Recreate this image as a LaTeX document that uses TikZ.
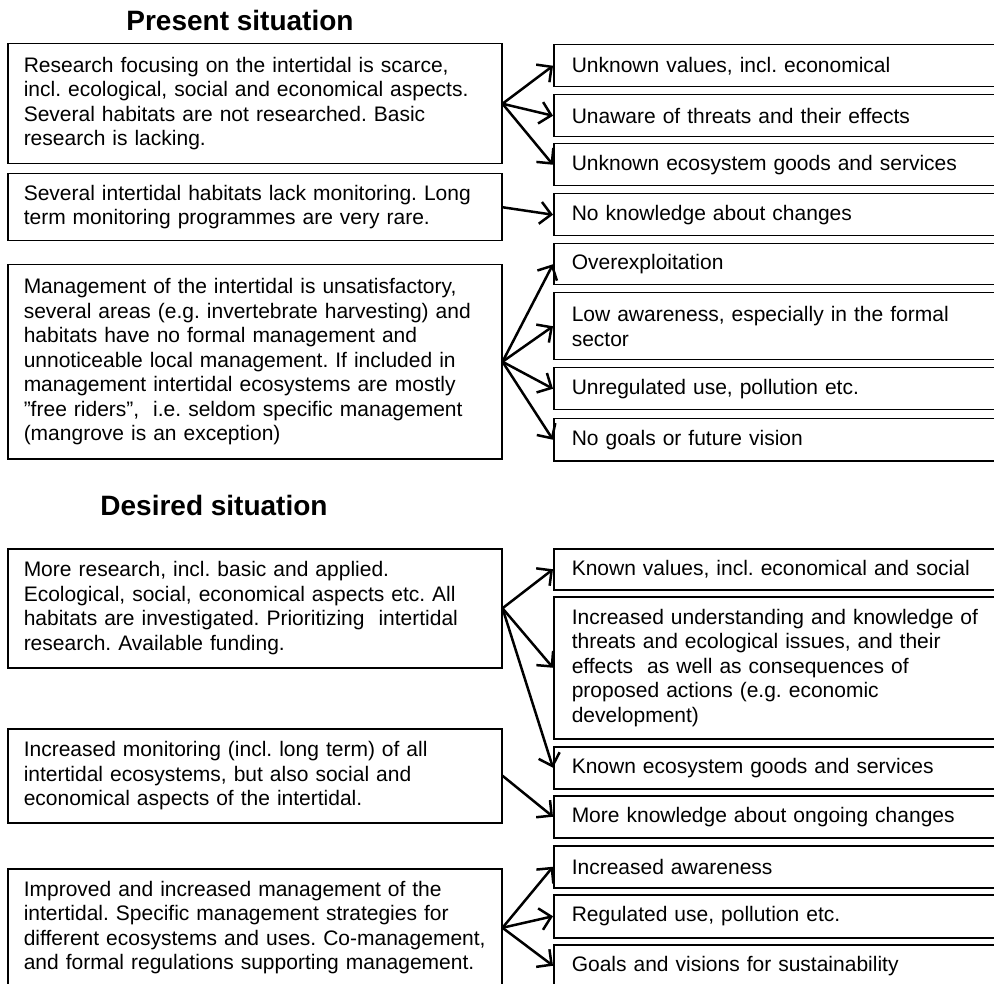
\documentclass[tikz,border=0pt]{standalone}
\usepackage{fontspec}
\setmainfont{Liberation Sans}
\usetikzlibrary{arrows.meta}
\frenchspacing
\hyphenpenalty=10000
\exhyphenpenalty=10000

\begin{document}
\begin{tikzpicture}[x=1pt, y=-1pt,
    box/.style={draw, line width=1.5pt, anchor=north west, inner ysep=0pt,
      align=left, font=\fontsize{21}{24.5}\selectfont},
    cause/.style={box, inner xsep=16pt, text width=462pt, minimum width=494pt},
    result/.style={box, inner xsep=18pt, text width=440pt, minimum width=476pt},
    leads/.style={line width=2.5pt, -{Straight Barb[length=11pt, width=22pt]}},
    heading/.style={font=\fontsize{28}{32}\selectfont\bfseries}]
  \useasboundingbox (0,0) rectangle (994,984);

  % present situation
  \node[heading] (present) at (240,20) {Present situation};
  \node[cause, minimum height=120pt] (p-research) at (7,43) {Research focusing on the intertidal is scarce,\\ incl. ecological, social and economical aspects.\\ Several habitats are not researched. Basic\\ research is lacking.};
  \node[cause, minimum height=67pt] (p-monitor) at (7,173) {Several intertidal habitats lack monitoring. Long\\ term monitoring programmes are very rare.};
  \node[cause, minimum height=194pt] (p-manage) at (7,264) {Management of the intertidal is unsatisfactory,\\ several areas (e.g. invertebrate harvesting) and\\ habitats have no formal management and\\ unnoticeable local management. If included in\\ management intertidal ecosystems are mostly\\ ”free riders”,~ i.e. seldom specific management\\ (mangrove is an exception)};

  \node[result, minimum height=42pt] (p-values) at (553,44) {Unknown values, incl. economical};
  \node[result, minimum height=42pt] (p-threats) at (553,94) {Unaware of threats and their effects};
  \node[result, minimum height=42pt] (p-goods) at (553,143) {Unknown ecosystem goods and services};
  \node[result, minimum height=42pt] (p-changes) at (553,193) {No knowledge about changes};
  \node[result, minimum height=41pt] (p-overexp) at (553,243) {Overexploitation};
  \node[result, minimum height=67pt] (p-aware) at (553,292) {Low awareness, especially in the formal\\ sector};
  \node[result, minimum height=42pt] (p-unreg) at (553,367) {Unregulated use, pollution etc.};
  \node[result, minimum height=42pt] (p-vision) at (553,418) {No goals or future vision};

  \draw[leads] (p-research.east) -- (p-values.west);
  \draw[leads] (p-research.east) -- (p-threats.west);
  \draw[leads] (p-research.east) -- (p-goods.west);
  \draw[leads] (p-monitor.east) -- (p-changes.west);
  \draw[leads] (p-manage.east) -- (p-overexp.west);
  \draw[leads] (p-manage.east) -- (p-aware.west);
  \draw[leads] (p-manage.east) -- (p-unreg.west);
  \draw[leads] (p-manage.east) -- (p-vision.west);

  % desired situation
  \node[heading] (desired) at (214,505) {Desired situation};
  \node[cause, minimum height=119pt] (d-research) at (7,548) {More research, incl. basic and applied.\\ Ecological, social, economical aspects etc. All\\ habitats are investigated. Prioritizing~ intertidal\\ research. Available funding.};
  \node[cause, minimum height=94pt] (d-monitor) at (7,728) {Increased monitoring (incl. long term) of all\\ intertidal ecosystems, but also social and\\ economical aspects of the intertidal.};
  \node[cause, minimum height=118pt] (d-manage) at (7,868) {Improved and increased management of the\\ intertidal. Specific management strategies for\\ different ecosystems and uses. Co-management,\\ and formal regulations supporting management.};

  \node[result, minimum height=41pt] (d-values) at (553,548) {Known values, incl. economical and social};
  \node[result, minimum height=142pt] (d-threats) at (553,596) {Increased understanding and knowledge of\\ threats and ecological issues, and their\\ effects~ as well as consequences of\\ proposed actions (e.g. economic\\ development)};
  \node[result, minimum height=42pt] (d-goods) at (553,746) {Known ecosystem goods and services};
  \node[result, minimum height=42pt] (d-changes) at (553,795) {More knowledge about ongoing changes};
  \node[result, minimum height=42pt] (d-aware) at (553,845) {Increased awareness};
  \node[result, minimum height=43pt] (d-reg) at (553,894) {Regulated use, pollution etc.};
  \node[result, minimum height=42pt] (d-vision) at (553,944) {Goals and visions for sustainability};

  \draw[leads] (d-research.east) -- (d-values.west);
  \draw[leads] (d-research.east) -- (d-threats.west);
  \draw[leads] (d-research.east) -- (d-goods.west);
  \draw[leads] (d-monitor.east) -- (d-changes.west);
  \draw[leads] (d-manage.east) -- (d-aware.west);
  \draw[leads] (d-manage.east) -- (d-reg.west);
  \draw[leads] (d-manage.east) -- (d-vision.west);
\end{tikzpicture}
\end{document}
